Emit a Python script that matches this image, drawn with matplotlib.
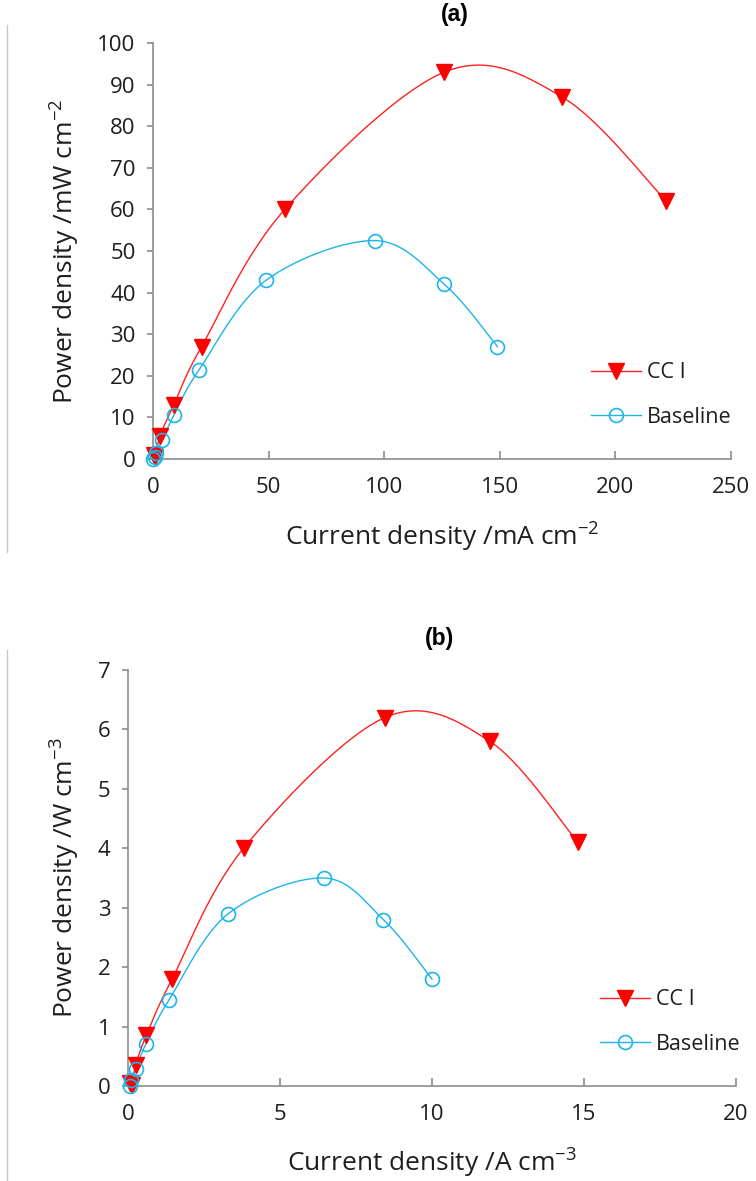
import numpy as np
import matplotlib
matplotlib.use("Agg")
import matplotlib.pyplot as plt
from matplotlib.lines import Line2D

# ---- data panel (a) ----
a_cc_x = [0.3, 1.0, 3.0, 9.0, 21.0, 57.0, 126.0, 177.0, 222.0]
a_cc_y = [1.0, 0.5, 5.5, 13.0, 27.0, 60.0, 93.0, 87.0, 62.0]
a_bl_x = [0.0, 1.0, 1.5, 4.0, 9.0, 20.0, 49.0, 96.0, 126.0, 149.0]
a_bl_y = [0.0, 0.5, 1.5, 4.5, 10.5, 21.5, 43.0, 52.5, 42.0, 27.0]
# ---- data panel (b) ----
b_cc_x = [0.05, 0.12, 0.25, 0.6, 1.45, 3.8, 8.45, 11.9, 14.8]
b_cc_y = [0.05, 0.02, 0.35, 0.85, 1.8, 4.0, 6.2, 5.8, 4.1]
b_bl_x = [0.05, 0.1, 0.25, 0.58, 1.35, 3.3, 6.45, 8.4, 10.0]
b_bl_y = [0.0, 0.1, 0.28, 0.7, 1.45, 2.9, 3.5, 2.8, 1.8]

RED = "#FF2020"
BLUE = "#1CB5EA"
AXC = "#8C8C8C"
TXT = "#1E1E1E"
FONT = ["Open Sans", "DejaVu Sans"]

plt.rcParams["mathtext.fontset"] = "custom"
plt.rcParams["mathtext.rm"] = "Open Sans"
plt.rcParams["mathtext.it"] = "Open Sans"
plt.rcParams["mathtext.bf"] = "Open Sans"

W, H = 756, 1181


def smooth(x, y, n=30):
    x = np.asarray(x, float); y = np.asarray(y, float)
    P = np.column_stack([x, y])
    P = np.vstack([P[0], P, P[-1]])
    out = []
    t = np.linspace(0, 1, n)[:, None]
    for i in range(1, len(P) - 2):
        p0, p1, p2, p3 = P[i - 1], P[i], P[i + 1], P[i + 2]
        c1 = p1 + (p2 - p0) / 6.0
        c2 = p2 - (p3 - p1) / 6.0
        seg = ((1 - t) ** 3) * p1 + 3 * ((1 - t) ** 2) * t * c1 + 3 * (1 - t) * t ** 2 * c2 + t ** 3 * p2
        out.append(seg)
    s = np.vstack(out)
    return s[:, 0], s[:, 1]


fig = plt.figure(figsize=(W / 100, H / 100), dpi=100)


def px_rect(x0, x1, ytop, ybot):
    return [x0 / W, 1 - ybot / H, (x1 - x0) / W, (ybot - ytop) / H]


def panel(rect, cc_x, cc_y, bl_x, bl_y, xlim, xticks, ylim, yticks, xlabel, ylabel,
          title, title_xy, leg_anchor, xlabel_y):
    ax = fig.add_axes(rect)
    sx, sy = smooth(cc_x, cc_y)
    ax.plot(sx, sy, color=RED, lw=1.0, zorder=2)
    ax.plot(cc_x, cc_y, ls="none", marker="v", ms=11.5, color="#FF0000", zorder=3, clip_on=False)
    sx, sy = smooth(bl_x, bl_y)
    ax.plot(sx, sy, color=BLUE, lw=1.0, zorder=2)
    ax.plot(bl_x, bl_y, ls="none", marker="o", ms=10, mfc="none", mec=BLUE, mew=1.2, zorder=3, clip_on=False)
    ax.set_xlim(*xlim); ax.set_ylim(*ylim)
    ax.set_xticks(xticks); ax.set_yticks(yticks)
    for s in ["top", "right"]:
        ax.spines[s].set_visible(False)
    for s in ["left", "bottom"]:
        ax.spines[s].set_color(AXC); ax.spines[s].set_linewidth(1.2)
    ax.tick_params(axis="y", direction="out", length=4.5, color=AXC, width=1.2, labelsize=16, pad=8)
    ax.tick_params(axis="x", direction="in", length=5.5, color=AXC, width=1.2, labelsize=16, pad=13)
    for lab in ax.get_xticklabels() + ax.get_yticklabels():
        lab.set_family(FONT); lab.set_color(TXT)
    ax.set_xlabel(xlabel, fontsize=19, family=FONT, color=TXT)
    ax.xaxis.label.set_va("center")
    ax.set_ylabel(ylabel, fontsize=19, family=FONT, color=TXT)
    ax.yaxis.label.set_va("center")
    ax.yaxis.set_label_coords(65 / W, rect[1] + rect[3] / 2, transform=fig.transFigure)
    ax.xaxis.set_label_coords(rect[0] + rect[2] / 2, 1 - xlabel_y / H, transform=fig.transFigure)
    fig.text(title_xy[0] / W, 1 - title_xy[1] / H, title, fontsize=16.5, fontweight="bold",
             family=["Liberation Sans", "DejaVu Sans"], ha="center", va="center")
    handles = [Line2D([], [], color=RED, lw=1.0, marker="v", ms=11.5, mfc="#FF0000", mec="#FF0000"),
               Line2D([], [], color=BLUE, lw=1.0, marker="o", ms=10, mfc="none", mec=BLUE, mew=1.2)]
    leg = fig.legend(handles, ["CC I", "Baseline"], loc="center left",
                     bbox_to_anchor=(leg_anchor[0] / W, 1 - leg_anchor[1] / H),
                     frameon=False, handlelength=2.3, handletextpad=0.3, labelspacing=1.1,
                     borderpad=0, borderaxespad=0, prop={"family": FONT, "size": 15.5})
    for t in leg.get_texts():
        t.set_color(TXT)
    return ax


panel(px_rect(153, 731, 43, 459),
      a_cc_x, a_cc_y, a_bl_x, a_bl_y, (0, 250), [0, 50, 100, 150, 200, 250], (0, 100), list(range(0, 101, 10)),
      "Current density /mA cm$^{\\mathregular{-2}}$", "Power density /mW cm$^{\\mathregular{-2}}$",
      "(a)", (455, 14), (591, 395), 537)

panel(px_rect(128, 736, 670, 1086),
      b_cc_x, b_cc_y, b_bl_x, b_bl_y, (0, 20), [0, 5, 10, 15, 20], (0, 7), list(range(0, 8)),
      "Current density /A cm$^{\\mathregular{-3}}$", "Power density /W cm$^{\\mathregular{-3}}$",
      "(b)", (440, 638), (600, 1022), 1163)

# frame lines at the left
fig.add_artist(Line2D([7 / W, 7 / W], [1 - 25 / H, 1 - 552 / H], color="#C8C8C8", lw=1.0))
fig.add_artist(Line2D([7 / W, 7 / W], [1 - 650 / H, 0], color="#C8C8C8", lw=1.0))

fig.savefig("out.png", dpi=100)
